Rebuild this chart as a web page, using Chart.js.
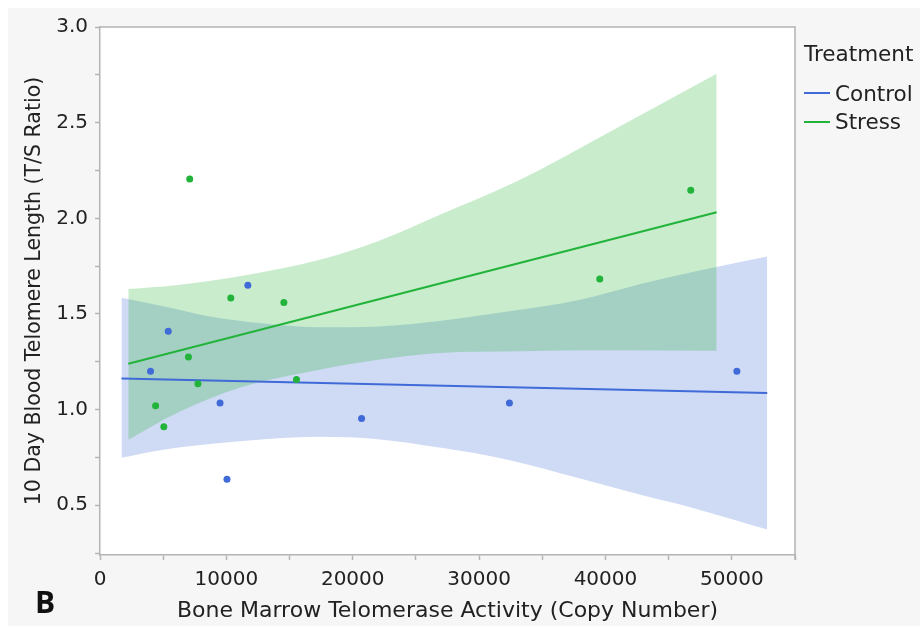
<!DOCTYPE html>
<html>
<head>
<meta charset="utf-8">
<script src="https://cdn.jsdelivr.net/npm/chart.js@4.4.1/dist/chart.umd.min.js"></script>
<style>
  html, body { margin: 0; padding: 0; background: #fff; }
  #wrap { position: absolute; left: 8px; top: 8px; width: 912px; height: 618px; background: #f6f6f6; }
  #chart { position: absolute; left: 0; top: 0; }
  .txt { position: absolute; font-family: 'DejaVu Sans', sans-serif; color: #222; white-space: nowrap; line-height: 1; }
  .leg { font-size: 21.5px; }
  .sw { position: absolute; width: 26px; height: 2px; }
</style>
</head>
<body>
<div id="wrap">
  <canvas id="chart" width="912" height="618"></canvas>
  <div class="txt leg" style="left:796px; top:35px;">Treatment</div>
  <div class="sw" style="left:796px; top:84px; background:#3f6ad8;"></div>
  <div class="txt leg" style="left:827px; top:75px;">Control</div>
  <div class="sw" style="left:796px; top:113px; background:#22b33a;"></div>
  <div class="txt leg" style="left:827px; top:103px;">Stress</div>
  <div class="txt" style="left:27px; top:579px; font-family:'Open Sans', sans-serif; font-size:30px; font-weight:bold; color:#111;">B</div>
</div>
<script>
Chart.defaults.font.family = "'DejaVu Sans', sans-serif";
Chart.defaults.color = '#222';

const BLUE = '#3f6ad8', GREEN = '#22b33a';

// observations (copy number, T/S ratio)
const controlX = [4000, 5400, 9500, 10050, 11700, 20700, 32400, 50400];
const controlY = [1.20, 1.41, 1.035, 0.636, 1.65, 0.953, 1.035, 1.20];
const stressX  = [4400, 5050, 7000, 7100, 7750, 10350, 14550, 15550, 39550, 46750];
const stressY  = [1.02, 0.91, 1.275, 2.205, 1.135, 1.583, 1.56, 1.157, 1.683, 2.147];

// fit lines, read at the ends
const controlFitX = [1700, 52800];
const controlFitY = [1.163, 1.087];
const stressFitX  = [2240, 48800];
const stressFitY  = [1.240, 2.032];

// confidence bands
const controlBandX  = [1700, 5000, 8700, 13000, 17400, 22000, 27000, 32000, 38000, 42700, 47000, 52800];
const controlBandHi = [1.585, 1.54, 1.487, 1.45, 1.43, 1.435, 1.465, 1.51, 1.574, 1.655, 1.72, 1.80];
const controlBandLo = [0.748, 0.79, 0.82, 0.845, 0.858, 0.845, 0.80, 0.742, 0.64, 0.556, 0.485, 0.373];
const stressBandX  = [2240, 6000, 11300, 17400, 22000, 26900, 33200, 40000, 48800];
const stressBandHi = [1.630, 1.65, 1.70, 1.783, 1.88, 2.018, 2.20, 2.44, 2.755];
const stressBandLo = [0.843, 0.98, 1.12, 1.209, 1.26, 1.296, 1.305, 1.31, 1.308];

const xTicks = [0, 10000, 20000, 30000, 40000, 50000];
const yTicks = [0.5, 1.0, 1.5, 2.0, 2.5, 3.0];

const pts = (xs, ys) => xs.map((x, i) => ({ x, y: ys[i] }));

const band = (xs, ys, fill, color) => ({
  type: 'line', data: pts(xs, ys), fill, backgroundColor: color,
  borderWidth: 0, pointRadius: 0, cubicInterpolationMode: 'monotone'
});

const frame = {
  id: 'frame',
  beforeDraw(c) {
    const a = c.chartArea, ctx = c.ctx;
    ctx.save();
    ctx.fillStyle = '#fff';
    ctx.fillRect(a.left, a.top, a.right - a.left, a.bottom - a.top);
    ctx.restore();
  },
  afterDraw(c) {
    const a = c.chartArea, ctx = c.ctx;
    ctx.save();
    ctx.strokeStyle = '#b4b4b4';
    ctx.lineWidth = 1.5;
    ctx.beginPath();
    ctx.moveTo(a.left, a.top); ctx.lineTo(a.right, a.top); ctx.lineTo(a.right, a.bottom + 5);
    ctx.stroke();
    ctx.restore();
  }
};

new Chart(document.getElementById('chart'), {
  type: 'scatter',
  data: {
    datasets: [
      { label: 'Control', data: pts(controlX, controlY), backgroundColor: BLUE, borderWidth: 0, pointRadius: 3.5 },
      { label: 'Stress', data: pts(stressX, stressY), backgroundColor: GREEN, borderWidth: 0, pointRadius: 3.5 },
      { type: 'line', data: pts(controlFitX, controlFitY), borderColor: BLUE, borderWidth: 2, pointRadius: 0, fill: false },
      { type: 'line', data: pts(stressFitX, stressFitY), borderColor: GREEN, borderWidth: 2, pointRadius: 0, fill: false },
      band(stressBandX, stressBandHi, '+1', 'rgba(35,179,51,0.25)'),
      band(stressBandX, stressBandLo, false, 'transparent'),
      band(controlBandX, controlBandHi, '+1', 'rgba(63,107,215,0.25)'),
      band(controlBandX, controlBandLo, false, 'transparent')
    ]
  },
  options: {
    responsive: false, animation: false,
    layout: { padding: { top: 19, right: 125, bottom: 0, left: 0 } },
    plugins: { legend: { display: false }, tooltip: { enabled: false } },
    scales: {
      x: {
        type: 'linear', min: 0, max: 55000,
        afterFit: s => { s.height = 71; },
        ticks: { stepSize: 5000, includeBounds: false, autoSkip: false, maxRotation: 0, padding: 8,
          font: { size: 20 }, callback: v => xTicks.includes(v) ? String(v) : '' },
        grid: { drawOnChartArea: false, tickLength: 5, color: '#b4b4b4', tickWidth: 1.5 },
        border: { color: '#b4b4b4', width: 1.5 },
        title: { display: true, text: 'Bone Marrow Telomerase Activity (Copy Number)', font: { size: 22 }, padding: { top: 0, bottom: 2 } }
      },
      y: {
        min: 0.24, max: 3.0,
        afterFit: s => { s.width = 92; },
        ticks: { stepSize: 0.25, includeBounds: false, padding: 7, font: { size: 20 },
          callback: v => yTicks.some(t => Math.abs(t - v) < 1e-6) ? v.toFixed(1) : '' },
        grid: { drawOnChartArea: false, tickLength: 5, color: '#b4b4b4', tickWidth: 1.5 },
        border: { color: '#b4b4b4', width: 1.5 },
        title: { display: true, text: '10 Day Blood Telomere Length (T/S Ratio)', font: { size: 20.5 }, padding: { top: 14, bottom: 0 } }
      }
    }
  },
  plugins: [frame]
});
</script>
</body>
</html>
